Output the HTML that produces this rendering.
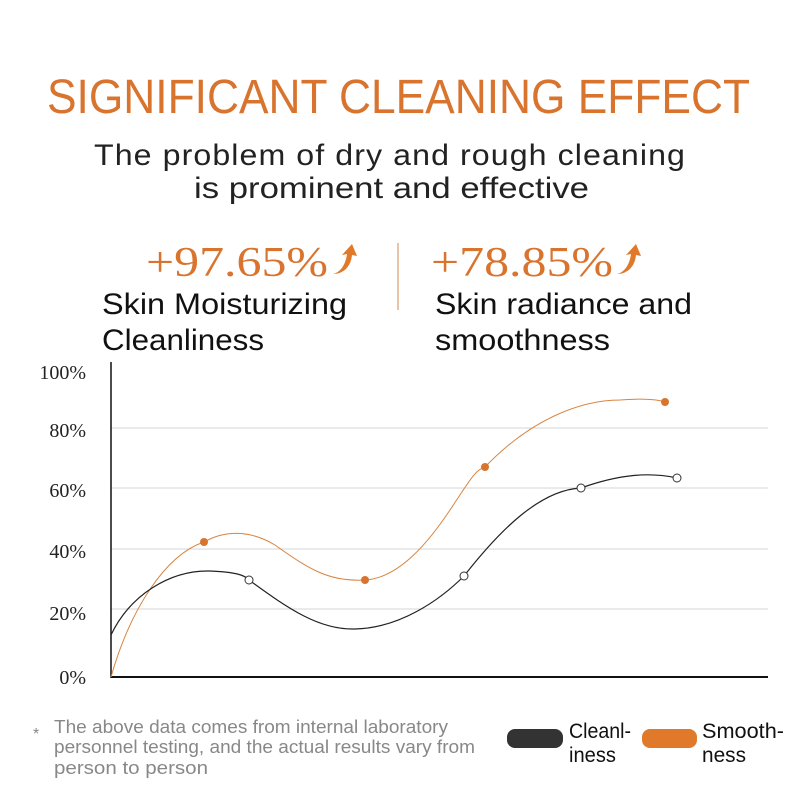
<!DOCTYPE html>
<html><head><meta charset="utf-8"><style>html,body{margin:0;padding:0;background:#fff}svg{display:block}</style></head>
<body>
<svg width="800" height="800" viewBox="0 0 800 800" xmlns="http://www.w3.org/2000/svg">
<rect width="800" height="800" fill="#fff"/>
<g font-family="Liberation Sans, sans-serif">
<text x="47" y="113" font-size="48" fill="#d9742f" textLength="703" lengthAdjust="spacingAndGlyphs">SIGNIFICANT CLEANING EFFECT</text>
<text x="94" y="165" font-size="30" fill="#222" textLength="592" lengthAdjust="spacingAndGlyphs" letter-spacing="1">The problem of dry and rough cleaning</text>
<text x="194" y="198" font-size="30" fill="#222" textLength="395" lengthAdjust="spacingAndGlyphs">is prominent and effective</text>
</g>
<g font-family="Liberation Serif, serif" font-size="42" fill="#d9742f">
<text x="146" y="276" textLength="182" lengthAdjust="spacingAndGlyphs">+97.65%</text>
<text x="431" y="276" textLength="182" lengthAdjust="spacingAndGlyphs">+78.85%</text>
</g>
<path d="M333 274 C342 272 346 262 347 254 L342 255 L352 244 L357 256 L352 255 C351 266 344 274 333 274Z" fill="#e07a2a"/>
<path d="M617 274 C626 272 630 262 631 254 L626 255 L636 244 L641 256 L636 255 C635 266 628 274 617 274Z" fill="#e07a2a"/>
<line x1="398" y1="243" x2="398" y2="310" stroke="#e0b08a" stroke-width="1.5"/>
<g font-family="Liberation Sans, sans-serif" font-size="30" fill="#111">
<text x="102" y="314" textLength="245" lengthAdjust="spacingAndGlyphs">Skin Moisturizing</text>
<text x="102" y="350" textLength="162" lengthAdjust="spacingAndGlyphs">Cleanliness</text>
<text x="435" y="314" textLength="257" lengthAdjust="spacingAndGlyphs">Skin radiance and</text>
<text x="435" y="350" textLength="175" lengthAdjust="spacingAndGlyphs">smoothness</text>
</g>
<g stroke="#d4d4d4" stroke-width="1">
<line x1="111" y1="428" x2="768" y2="428"/>
<line x1="111" y1="488" x2="768" y2="488"/>
<line x1="111" y1="549" x2="768" y2="549"/>
<line x1="111" y1="609" x2="768" y2="609"/>
</g>
<line x1="111" y1="362" x2="111" y2="678" stroke="#111" stroke-width="1.5"/>
<line x1="111" y1="677" x2="768" y2="677" stroke="#111" stroke-width="2"/>
<g font-family="Liberation Serif, serif" font-size="20" fill="#222" text-anchor="end">
<text x="86" y="379">100%</text>
<text x="86" y="437">80%</text>
<text x="86" y="497">60%</text>
<text x="86" y="558">40%</text>
<text x="86" y="620">20%</text>
<text x="86" y="684">0%</text>
</g>
<path d="M111 677 C130 610 165 555 204 542 C225 530 250 530 275 545 C310 570 330 582 365 580 C400 578 430 540 450 510 C470 480 475 470 485 467 C530 420 580 400 620 400 C645 398 660 400 665 402" fill="none" stroke="#d9843f" stroke-width="1"/>
<path d="M111 635 C130 595 170 570 210 571 C235 572 245 575 249 580 C290 610 320 630 355 629 C400 628 440 600 464 576 C500 530 540 490 581 488 C620 474 650 472 677 478" fill="none" stroke="#222" stroke-width="1.2"/>
<g fill="#d9742f">
<circle cx="204" cy="542" r="4"/><circle cx="365" cy="580" r="4"/><circle cx="485" cy="467" r="4"/><circle cx="665" cy="402" r="4"/>
</g>
<g fill="#fff" stroke="#333" stroke-width="1">
<circle cx="249" cy="580" r="4"/><circle cx="464" cy="576" r="4"/><circle cx="581" cy="488" r="4"/><circle cx="677" cy="478" r="4"/>
</g>
<g font-family="Liberation Sans, sans-serif" font-size="18" fill="#888">
<text x="33" y="739" font-size="16">*</text>
<text x="54" y="733" textLength="394" lengthAdjust="spacingAndGlyphs">The above data comes from internal laboratory</text>
<text x="54" y="753" textLength="421" lengthAdjust="spacingAndGlyphs">personnel testing, and the actual results vary from</text>
<text x="54" y="774" textLength="154" lengthAdjust="spacingAndGlyphs">person to person</text>
</g>
<rect x="507" y="729" width="56" height="19" rx="8" fill="#333"/>
<rect x="642" y="729" width="55" height="19" rx="8" fill="#e07a2a"/>
<g font-family="Liberation Sans, sans-serif" font-size="21" fill="#111">
<text x="569" y="738" textLength="62" lengthAdjust="spacingAndGlyphs">Cleanl-</text>
<text x="569" y="762" textLength="47" lengthAdjust="spacingAndGlyphs">iness</text>
<text x="702" y="738" textLength="82" lengthAdjust="spacingAndGlyphs">Smooth-</text>
<text x="702" y="762" textLength="44" lengthAdjust="spacingAndGlyphs">ness</text>
</g>
</svg>
</body></html>
